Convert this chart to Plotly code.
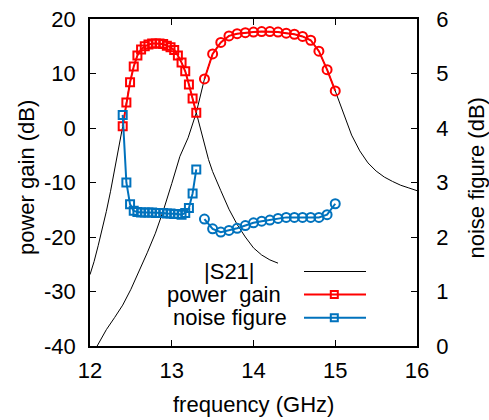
import plotly.graph_objects as go

# ---------------- data ----------------
# power gain / noise figure, lower band (square markers)
sq_freq = [12.400, 12.445, 12.490, 12.535, 12.580, 12.625, 12.670, 12.715, 12.760, 12.805,
           12.850, 12.895, 12.940, 12.985, 13.030, 13.075, 13.120, 13.165, 13.210, 13.255, 13.300]
gain_sq = [0.3, 4.7, 8.4, 11.3, 13.3, 14.4, 15.0, 15.3, 15.5, 15.5,
           15.5, 15.4, 15.1, 14.8, 14.3, 13.3, 12.0, 10.4, 8.0, 5.4, 2.8]
nf_sq = [4.24, 3.00, 2.60, 2.48, 2.46, 2.45, 2.45, 2.45, 2.45, 2.44,
         2.44, 2.44, 2.43, 2.43, 2.42, 2.42, 2.41, 2.44, 2.53, 2.80, 3.24]

# power gain / noise figure, upper band (circle markers)
ci_freq = [13.4, 13.5, 13.6, 13.7, 13.8, 13.9, 14.0, 14.1, 14.2, 14.3,
           14.4, 14.5, 14.6, 14.7, 14.8, 14.9, 15.0]
gain_ci = [9.0, 13.6, 15.7, 16.9, 17.3, 17.5, 17.6, 17.7, 17.7, 17.6,
           17.4, 17.2, 16.8, 16.1, 14.1, 10.7, 6.8]
nf_ci = [2.33, 2.15, 2.09, 2.12, 2.16, 2.21, 2.26, 2.29, 2.31, 2.34,
         2.36, 2.36, 2.36, 2.36, 2.36, 2.41, 2.61]

# |S21| curve of the lower band
s21_a_freq = [12.00, 12.05, 12.10, 12.15, 12.20, 12.25, 12.30, 12.35, 12.400, 12.445,
              12.490, 12.535, 12.580, 12.625, 12.670, 12.715, 12.760, 12.805, 12.850, 12.895,
              12.940, 12.985, 13.030, 13.075, 13.120, 13.165, 13.210, 13.255, 13.300, 13.35,
              13.40, 13.45, 13.50, 13.55, 13.60, 13.70, 13.80, 13.90, 14.00, 14.10,
              14.20, 14.30]
s21_a = [-26.9, -24.5, -21.6, -18.6, -15.3, -11.7, -7.9, -3.9, 0.3, 4.7,
         8.4, 11.3, 13.3, 14.4, 15.0, 15.3, 15.5, 15.5, 15.5, 15.4,
         15.1, 14.8, 14.3, 13.3, 12.0, 10.4, 8.0, 5.4, 2.8, -0.5,
         -3.3, -5.8, -8.0, -9.9, -11.5, -14.9, -17.7, -20.0, -22.0, -23.3,
         -24.2, -24.8]

# |S21| curve of the upper band
s21_b_freq = [12.05, 12.10, 12.20, 12.30, 12.40, 12.50, 12.60, 12.70, 12.80, 12.90,
              13.00, 13.10, 13.20, 13.30, 13.40, 13.50, 13.60, 13.70, 13.80, 13.90,
              14.00, 14.10, 14.20, 14.30, 14.40, 14.50, 14.60, 14.70, 14.80, 14.90,
              15.00, 15.10, 15.20, 15.30, 15.40, 15.50, 15.60, 15.70, 15.80, 15.90, 16.00]
s21_b = [-41.0, -39.7, -37.0, -34.8, -32.5, -29.6, -26.3, -22.9, -19.3, -15.0,
         -10.2, -5.2, -1.8, 2.8, 9.0, 13.6, 15.7, 16.9, 17.3, 17.5,
         17.6, 17.7, 17.7, 17.6, 17.4, 17.2, 16.8, 16.1, 14.1, 10.7,
         6.8, 2.6, -1.3, -4.2, -6.4, -7.9, -9.0, -9.8, -10.5, -11.0, -11.5]

x_ticks = [12, 13, 14, 15, 16]
gain_ticks = [-40, -30, -20, -10, 0, 10, 20]
nf_ticks = [0, 1, 2, 3, 4, 5, 6]

legend_labels = ["|S21|", "power  gain", "noise figure"]

# ---------------- styling ----------------
RED = "#ff0000"
BLUE = "#0072bd"
FONT = "Liberation Sans, Arial, sans-serif"
W, H = 489, 420
# plot area in pixels: x 90..417, y 19..346
L, T = 90, 19
PW, PH = 327, 327
R, B = W - L - PW, H - T - PH


def px_x(px):   # pixel -> paper x
    return (px - L) / PW


def px_y(py):   # pixel -> paper y
    return (T + PH - py) / PH


fig = go.Figure()

# |S21| (two branches drawn as one series)
fig.add_trace(go.Scatter(
    x=s21_a_freq + [None] + s21_b_freq,
    y=s21_a + [None] + s21_b,
    mode="lines", line=dict(color="black", width=1), connectgaps=False,
    name=legend_labels[0], showlegend=False, yaxis="y"))

# power gain
for xs, ys, sym, sz in [(sq_freq, gain_sq, "square-open", 8), (ci_freq, gain_ci, "circle-open", 9)]:
    fig.add_trace(go.Scatter(
        x=xs, y=ys, mode="lines+markers",
        line=dict(color=RED, width=2),
        marker=dict(symbol=sym, size=sz, color=RED, line=dict(color=RED, width=2)),
        name=legend_labels[1], showlegend=False, yaxis="y", cliponaxis=False))

# noise figure
for xs, ys, sym, sz in [(sq_freq, nf_sq, "square-open", 8), (ci_freq, nf_ci, "circle-open", 9)]:
    fig.add_trace(go.Scatter(
        x=xs, y=ys, mode="lines+markers",
        line=dict(color=BLUE, width=2),
        marker=dict(symbol=sym, size=sz, color=BLUE, line=dict(color=BLUE, width=2)),
        name=legend_labels[2], showlegend=False, yaxis="y2", cliponaxis=False))

axis_common = dict(
    showgrid=False, zeroline=False, showline=True, linecolor="black", linewidth=1.5,
    ticks="inside", ticklen=6, tickwidth=1, tickcolor="black", automargin=False,
    ticklabeloverflow="allow",
    tickfont=dict(family=FONT, size=22, color="black"))

fig.update_layout(
    width=W, height=H,
    margin=dict(l=L, r=R, t=T, b=B, pad=0, autoexpand=False),
    paper_bgcolor="white", plot_bgcolor="white",
    showlegend=False,
    font=dict(family=FONT, size=22, color="black"),
    xaxis=dict(range=[12, 16], tickvals=x_ticks, ticktext=[str(v) for v in x_ticks],
               mirror="ticks", ticklabelstandoff=4, **axis_common),
    yaxis=dict(range=[-40, 20], tickvals=gain_ticks, ticktext=[str(v) for v in gain_ticks],
               ticklabelstandoff=8, **axis_common),
    yaxis2=dict(range=[0, 6], tickvals=nf_ticks, ticktext=[str(v) for v in nf_ticks],
                overlaying="y", side="right", ticklabelstandoff=13, **axis_common),
)

annotations = [
    dict(text="frequency (GHz)", x=px_x(253.5), y=px_y(404), xref="paper", yref="paper",
         xanchor="center", yanchor="middle", showarrow=False, font=dict(family=FONT, size=22)),
    dict(text="power gain (dB)", x=px_x(26), y=px_y(178), xref="paper", yref="paper",
         xanchor="center", yanchor="middle", textangle=-90, showarrow=False,
         font=dict(family=FONT, size=22)),
    dict(text="noise figure (dB)", x=px_x(475.5), y=px_y(178), xref="paper", yref="paper",
         xanchor="center", yanchor="middle", textangle=-90, showarrow=False,
         font=dict(family=FONT, size=22)),
]

# custom gnuplot-style key: text on the left, sample on the right
key_rows = [(legend_labels[0], 256.7, 271.5, "black", 1, False),
            (legend_labels[1], 282.7, 294.5, RED, 2, True),
            (legend_labels[2], 289.3, 317.8, BLUE, 2, True)]
shapes = []
for label, xr, yc, col, lw, mk in key_rows:
    annotations.append(dict(text=label, x=px_x(xr), y=px_y(yc), xref="paper", yref="paper",
                            xanchor="right", yanchor="middle", showarrow=False,
                            font=dict(family=FONT, size=22)))
    shapes.append(dict(type="line", xref="paper", yref="paper",
                       x0=px_x(304), x1=px_x(366), y0=px_y(yc), y1=px_y(yc),
                       line=dict(color=col, width=lw)))
    if mk:
        shapes.append(dict(type="rect", xref="paper", yref="paper",
                           x0=px_x(334.3 - 3.5), x1=px_x(334.3 + 3.5),
                           y0=px_y(yc + 3.5), y1=px_y(yc - 3.5),
                           line=dict(color=col, width=2), fillcolor="rgba(0,0,0,0)"))

fig.update_layout(annotations=annotations, shapes=shapes)

fig.write_html("out.html",
               config={"displayModeBar": False},
               post_script="document.body.style.margin='0px';"
                           "document.body.style.overflow='hidden';")
